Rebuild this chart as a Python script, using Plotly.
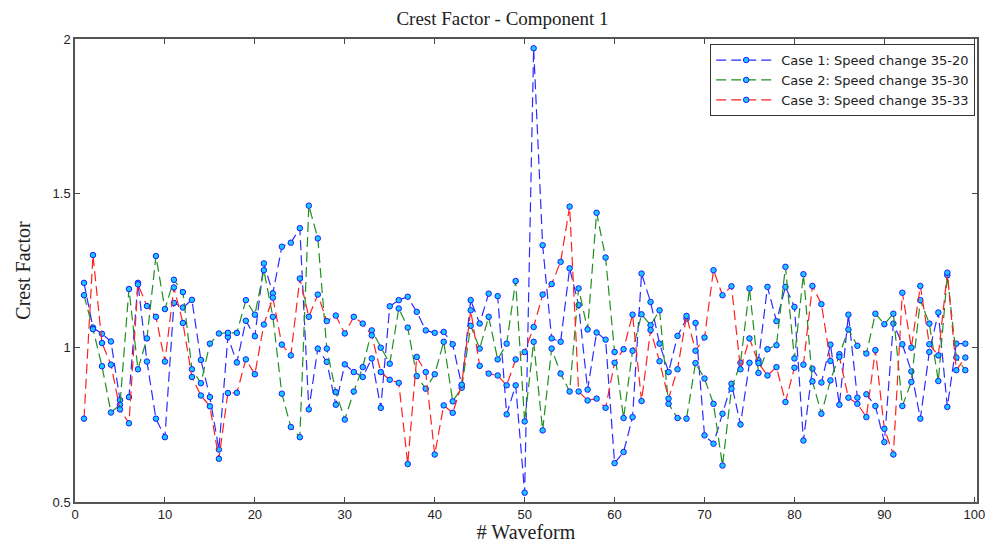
import plotly.graph_objects as go

waveform = list(range(1, 100))

case1 = [1.21, 1.065, 1.045, 1.02, 0.83, 0.84, 1.21, 0.955, 0.77, 0.71,
         1.145, 1.13, 1.155, 0.96, 0.84, 0.67, 1.035, 0.952, 1.087, 1.037,
         1.273, 1.176, 1.327, 1.34, 1.387, 0.80, 0.997, 0.954, 0.815, 0.946,
         0.921, 0.905, 0.965, 0.805, 1.134, 1.154, 1.165, 1.116, 1.056, 1.048,
         1.051, 1.011, 0.878, 1.154, 1.078, 1.175, 1.167, 0.784, 0.878, 0.53,
         1.97, 1.332, 1.03, 1.019, 1.257, 1.138, 0.864, 1.049, 1.026, 0.626,
         0.662, 0.775, 1.24, 1.148, 1.013, 0.921, 1.038, 1.094, 1.08, 0.716,
         0.689, 0.786, 0.883, 0.751, 0.951, 0.959, 1.197, 1.086, 1.197, 1.132,
         0.699, 0.932, 0.887, 1.01, 0.815, 1.107, 0.838, 0.849, 0.811, 0.694,
         1.078, 1.011, 0.923, 0.77, 0.986, 1.114, 0.808, 1.013, 1.013]

case2 = [1.17, 1.06, 0.94, 0.79, 0.815, 1.19, 0.93, 1.03, 1.297, 1.125,
         1.22, 1.18, 0.93, 0.885, 1.013, 1.046, 1.048, 1.048, 1.154, 1.107,
         1.251, 1.10, 0.851, 0.743, 0.71, 1.46, 1.354, 0.997, 0.856, 0.767,
         0.858, 0.937, 1.056, 1.0, 0.948, 1.127, 1.065, 0.908, 0.867, 0.914,
         1.019, 0.826, 0.87, 1.071, 0.997, 1.10, 0.962, 1.013, 1.216, 0.761,
         1.019, 0.732, 0.997, 0.916, 0.858, 1.192, 1.059, 1.437, 1.292, 0.986,
         0.772, 0.99, 1.108, 1.073, 1.121, 0.818, 0.772, 0.77, 0.95, 0.9,
         0.818, 0.618, 0.867, 0.951, 1.192, 0.918, 0.995, 1.008, 1.262, 0.965,
         1.238, 0.891, 0.786, 0.894, 0.979, 1.059, 1.006, 0.981, 1.11, 1.076,
         1.11, 0.811, 0.889, 1.154, 1.078, 0.892, 1.235, 0.968, 0.927]

case3 = [0.77, 1.30, 1.015, 0.945, 0.80, 0.755, 1.205, 1.135, 1.10, 0.955,
         1.195, 1.08, 0.905, 0.845, 0.81, 0.64, 0.853, 0.854, 0.962, 0.914,
         1.075, 1.162, 1.010, 0.975, 1.224, 1.10, 1.172, 1.086, 1.104, 1.046,
         1.10, 1.078, 1.04, 0.921, 0.896, 0.886, 0.623, 0.97, 0.921, 0.654,
         0.813, 0.789, 0.88, 1.121, 0.941, 0.916, 0.91, 0.878, 0.962, 0.986,
         1.067, 1.172, 1.206, 1.278, 1.457, 0.858, 0.829, 0.835, 0.805, 0.951,
         0.995, 1.107, 0.827, 1.057, 0.956, 0.835, 0.93, 1.103, 0.99, 1.033,
         1.251, 1.17, 1.199, 0.93, 1.03, 0.95, 0.91, 0.937, 0.824, 0.935,
         0.945, 1.20, 1.141, 0.957, 0.97, 0.838, 0.818, 0.775, 0.992, 0.737,
         0.654, 1.178, 1.0, 1.20, 1.011, 0.975, 1.243, 0.927, 0.968]

names = ["Case 1: Speed change 35-20",
         "Case 2: Speed change 35-30",
         "Case 3: Speed change 35-33"]
colors = ["#2b2bff", "#1f8f1f", "#ff2020"]

x_ticks = list(range(0, 101, 10))
y_ticks = [0.5, 1, 1.5, 2]
y_tick_text = ["0.5", "1", "1.5", "2"]

fig = go.Figure()
for vals, name, col in zip([case1, case2, case3], names, colors):
    fig.add_trace(go.Scatter(
        x=waveform, y=vals, name=name, mode="lines+markers",
        line=dict(color=col, width=1.2, dash="10px,5px"),
        marker=dict(symbol="circle", size=5.5, color="#19c8ff",
                    line=dict(color="#1a1aff", width=1)),
    ))

serif = "Liberation Serif, DejaVu Serif, serif"
sans = "Liberation Sans, Arial, sans-serif"

fig.update_layout(
    width=989, height=535,
    paper_bgcolor="white", plot_bgcolor="white",
    margin=dict(l=67, r=20, t=31, b=41, autoexpand=False),
    title=dict(text="Crest Factor - Component 1", x=0.5, xanchor="center",
               y=0.981, yanchor="middle",
               font=dict(family=serif, size=19, color="#222")),
    showlegend=True,
    legend=dict(x=0.998, y=0.989, xanchor="right", yanchor="top",
                bgcolor="white", bordercolor="#333", borderwidth=1,
                font=dict(family="DejaVu Sans, sans-serif", size=13, color="#222"),
                tracegroupgap=0, itemwidth=60),
    font=dict(family=sans, size=13, color="#222"),
)
fig.update_xaxes(
    range=[0, 100.3], tickvals=x_ticks, ticks="inside", ticklen=5,
    showline=True, linecolor="#555", linewidth=1.5, mirror="ticks",
    showgrid=False, zeroline=False, automargin=False,
    tickfont=dict(family=sans, size=13, color="#222"),
    title=dict(text="# Waveform", font=dict(family=serif, size=20, color="#222"),
               standoff=6),
)
fig.update_yaxes(
    range=[0.5, 2], tickvals=y_ticks, ticktext=y_tick_text,
    ticks="inside", ticklen=5,
    showline=True, linecolor="#555", linewidth=1.5, mirror="ticks",
    showgrid=False, zeroline=False, automargin=False,
    tickfont=dict(family=sans, size=13, color="#222"),
    title=dict(text="Crest Factor", font=dict(family=serif, size=20, color="#222"),
               standoff=17),
)

fig.write_html("out.html")
